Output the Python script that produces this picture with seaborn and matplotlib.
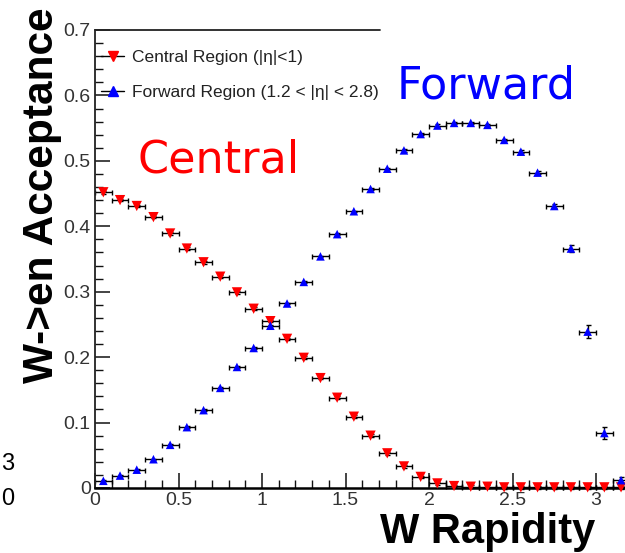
import numpy as np
import pandas as pd
import matplotlib
matplotlib.use("Agg")
import matplotlib.pyplot as plt
import seaborn as sns
from matplotlib.lines import Line2D
from matplotlib.ticker import MultipleLocator

# ---------------- data ----------------
rapidity = [0.05, 0.15, 0.25, 0.35, 0.45, 0.55, 0.65, 0.75, 0.85, 0.95,
            1.05, 1.15, 1.25, 1.35, 1.45, 1.55, 1.65, 1.75, 1.85, 1.95,
            2.05, 2.15, 2.25, 2.35, 2.45, 2.55, 2.65, 2.75, 2.85, 2.95,
            3.05, 3.15]
bin_halfwidth = [0.05] * 32
central = [0.452, 0.440, 0.431, 0.414, 0.389, 0.366, 0.345, 0.323, 0.299, 0.274,
           0.255, 0.228, 0.199, 0.168, 0.138, 0.109, 0.080, 0.053, 0.033, 0.017,
           0.007, 0.003, 0.002, 0.002, 0.001, 0.001, 0.001, 0.001, 0.001, 0.001,
           0.001, 0.001]
central_err = [0.002] * 32
forward = [0.011, 0.019, 0.028, 0.044, 0.066, 0.093, 0.119, 0.153, 0.185, 0.214,
           0.248, 0.282, 0.315, 0.354, 0.388, 0.423, 0.457, 0.488, 0.516, 0.541,
           0.554, 0.558, 0.558, 0.555, 0.532, 0.514, 0.482, 0.431, 0.366, 0.239,
           0.084, 0.012]
forward_err = [0.001, 0.001, 0.001, 0.001, 0.001, 0.001, 0.001, 0.001, 0.001, 0.001,
               0.001, 0.001, 0.001, 0.001, 0.001, 0.001, 0.001, 0.001, 0.002, 0.002,
               0.002, 0.002, 0.002, 0.002, 0.002, 0.002, 0.002, 0.003, 0.006, 0.010,
               0.009, 0.005]

legend_labels = ["Central Region (|\u03b7|<1)", "Forward Region (1.2 < |\u03b7| < 2.8)"]
x_ticks = [0, 0.5, 1, 1.5, 2, 2.5, 3]
y_ticks = [0, 0.1, 0.2, 0.3, 0.4, 0.5, 0.6, 0.7]
y_tick_labels = ["0", "0.1", "0.2", "0.3", "0.4", "0.5", "0.6", "0.7"]
x_tick_labels = ["0", "0.5", "1", "1.5", "2", "2.5", "3"]

df_c = pd.DataFrame({"y": rapidity, "acc": central})
df_f = pd.DataFrame({"y": rapidity, "acc": forward})

# ---------------- figure ----------------
sns.set_theme(style="white")
plt.rcParams["font.family"] = ["Liberation Sans", "DejaVu Sans"]

W, H = 625, 553
fig = plt.figure(figsize=(W / 100, H / 100), dpi=100)
x0, x1 = 95, 625
y0, y1 = 488, 30
ax = fig.add_axes([x0 / W, 1 - y0 / H, (x1 - x0) / W, (y0 - y1) / H])
ax.set_facecolor("white")

# error bars
ax.errorbar(rapidity, central, xerr=bin_halfwidth, yerr=central_err, fmt="none",
            ecolor="black", elinewidth=1.0, capsize=1.8, capthick=1.0, clip_on=False, zorder=2)
ax.errorbar(rapidity, forward, xerr=bin_halfwidth, yerr=forward_err, fmt="none",
            ecolor="black", elinewidth=1.0, capsize=1.8, capthick=1.0, clip_on=False, zorder=2)

# markers
sns.scatterplot(data=df_c, x="y", y="acc", marker="v", color="#ff0000", s=55,
                edgecolor="none", linewidth=0, ax=ax, clip_on=False, zorder=3, legend=False)
sns.scatterplot(data=df_f, x="y", y="acc", marker="^", color="#0000ff", s=38,
                edgecolor="none", linewidth=0, ax=ax, clip_on=False, zorder=4, legend=False)

ax.set_xlim(0, (x1 - x0) / 167.0)
ax.set_ylim(0, 0.7)
ax.set_xlabel("")
ax.set_ylabel("")

ax.set_xticks(x_ticks)
ax.set_xticklabels(x_tick_labels)
ax.set_yticks(y_ticks)
ax.set_yticklabels(y_tick_labels)
ax.xaxis.set_minor_locator(MultipleLocator(0.1))
ax.yaxis.set_minor_locator(MultipleLocator(0.02))
ax.tick_params(axis="both", which="major", direction="in", length=11, width=1.1,
               color="#111111", labelsize=14, labelcolor="#333333")
ax.tick_params(axis="both", which="minor", direction="in", length=5.5, width=1.0, color="#111111")
ax.tick_params(axis="x", which="major", pad=3)
ax.tick_params(axis="y", which="major", pad=3)
ax.xaxis.set_ticks_position("bottom")
ax.yaxis.set_ticks_position("left")

for side in ["right", "top"]:
    ax.spines[side].set_visible(False)
ax.spines["left"].set_linewidth(1.3)
ax.spines["left"].set_color("#222222")
ax.spines["bottom"].set_linewidth(1.8)
ax.spines["bottom"].set_color("#000000")
# top frame, partly covered by the "Forward" box
ax.plot([0, (380 - x0) / 167.0], [0.7, 0.7], color="#222222", lw=1.3, clip_on=False, zorder=1)

# legend
h_c = (Line2D([], [], color="black", lw=1.0), Line2D([], [], marker="v", color="#ff0000", ls="", markersize=7.5))
h_f = (Line2D([], [], color="black", lw=1.0), Line2D([], [], marker="^", color="#0000ff", ls="", markersize=6.5))
leg = ax.legend([h_c, h_f], legend_labels, loc="upper left",
                bbox_to_anchor=(101 / W, 1 - 50 / H), bbox_transform=fig.transFigure,
                frameon=False, fontsize=12.5, handlelength=1.35, handletextpad=0.45,
                labelspacing=1.15, borderpad=0, borderaxespad=0)
for t in leg.get_texts():
    t.set_color("#222222")

# annotations
ax.text((219 - x0) / 167.0, (488 - 160) / 654.0, "Central", color="#ff0000",
        fontsize=32, ha="center", va="center", family=["DejaVu Sans"])
ax.text((486 - x0) / 167.0, (488 - 86) / 654.0, "Forward", color="#0000ff",
        fontsize=32, ha="center", va="center", family=["DejaVu Sans"])

# axis titles
fig.text(42 / W, 1 - 195 / H, "W->en Acceptance", rotation=90, ha="center", va="center",
         fontsize=30.5, fontweight="bold", color="black")
fig.text(488 / W, 1 - 543 / H, "W Rapidity", ha="center", va="baseline",
         fontsize=30, fontweight="bold", color="black")

# stray fragments at left edge
fig.text(1 / W, 1 - 470 / H, "3", ha="left", va="baseline", fontsize=17, color="black")
fig.text(1 / W, 1 - 505 / H, "0", ha="left", va="baseline", fontsize=17, color="black")

fig.savefig("out.png", dpi=100, facecolor="white")
